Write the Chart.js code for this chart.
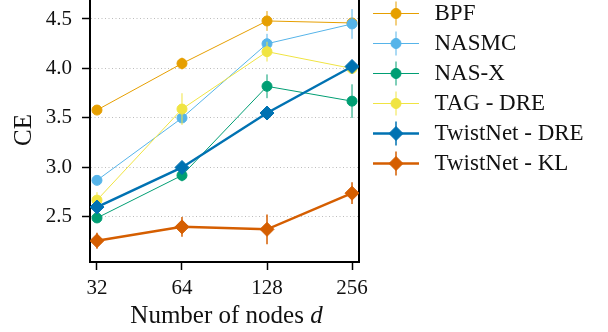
<!DOCTYPE html>
<html>
<head>
<meta charset="utf-8">
<script src="https://cdn.jsdelivr.net/npm/chart.js@4.4.1/dist/chart.umd.min.js"></script>
<style>
  html, body { margin: 0; padding: 0; background: #fff; }
  #frame { width: 608px; height: 332px; overflow: hidden; position: relative; }
  #grafica { position: absolute; left: 0; top: -5px; }
</style>
</head>
<body>
<div id="frame"><canvas id="grafica" width="608" height="337"></canvas></div>
<script>
// number of nodes d (log2 spaced on the axis)
const nodes = [32, 64, 128, 256];
const nodeLabels = ['32', '64', '128', '256'];
const yTicks = [2.5, 3.0, 3.5, 4.0, 4.5];
const yTickLabels = ['2.5', '3.0', '3.5', '4.0', '4.5'];

const names = ['BPF', 'NASMC', 'NAS-X', 'TAG - DRE', 'TwistNet - DRE', 'TwistNet - KL'];
const colors = ['#E69F00', '#56B4E9', '#009E73', '#F0E442', '#0072B2', '#D55E00'];

const bpf = [3.58, 4.05, 4.48, 4.46];
const nasmc = [2.87, 3.50, 4.25, 4.45];
const nasx = [2.49, 2.92, 3.82, 3.67];
const tagDre = [2.67, 3.59, 4.17, 4.00];
const twistDre = [2.60, 3.00, 3.55, 4.02];
const twistKl = [2.26, 2.40, 2.375, 2.74];

const bpfErr = [0.03, 0.06, 0.10, 0.04];
const nasmcErr = [0.03, 0.05, 0.10, 0.15];
const nasxErr = [0.04, 0.06, 0.12, 0.17];
const tagDreErr = [0.08, 0.16, 0.10, 0.05];
const twistDreErr = [0.04, 0.04, 0.05, 0.05];
const twistKlErr = [0.08, 0.10, 0.15, 0.11];

const series = [bpf, nasmc, nasx, tagDre, twistDre, twistKl];
const errors = [bpfErr, nasmcErr, nasxErr, tagDreErr, twistDreErr, twistKlErr];

const family = "'Liberation Serif', serif";
const tickSize = 21;
const legendSize = 23;
const titleSize = 25;

Chart.defaults.font.family = family;
Chart.defaults.color = '#111';

function esGrueso(i) { return i >= 4; }

// little picture for the legend: line, error bar and marker
function iconoLeyenda(i) {
  const c = document.createElement('canvas');
  c.width = 50; c.height = 27;
  const g = c.getContext('2d');
  g.strokeStyle = colors[i];
  g.fillStyle = colors[i];
  g.lineWidth = esGrueso(i) ? 2.5 : 1;
  g.beginPath(); g.moveTo(0, 13.5); g.lineTo(46, 13.5); g.stroke();
  g.lineWidth = esGrueso(i) ? 1.5 : 1;
  g.beginPath(); g.moveTo(23, 1.5); g.lineTo(23, 25.5); g.stroke();
  g.lineWidth = 1;
  g.beginPath();
  if (esGrueso(i)) {
    g.moveTo(16, 13.5); g.lineTo(23, 6.5); g.lineTo(30, 13.5); g.lineTo(23, 20.5); g.closePath();
  } else {
    g.arc(23, 13.5, 5, 0, Math.PI * 2);
  }
  g.fill(); g.stroke();
  return c;
}

const iconos = names.map((n, i) => iconoLeyenda(i));

// legend box width, so that it starts right of the plot
const meas = document.createElement('canvas').getContext('2d');
meas.font = legendSize + 'px ' + family;
const longest = Math.max(...names.map(n => meas.measureText(n).width));
const legendW = 7 + 50 + legendSize / 2 + longest + 10;
const padRight = Math.max(0, 608 - 366 - legendW);

const datasets = names.map((name, i) => ({
  label: name,
  data: nodes.map((d, j) => ({ x: Math.log2(d), y: series[i][j] })),
  err: errors[i],
  borderColor: colors[i],
  backgroundColor: colors[i],
  borderWidth: esGrueso(i) ? 2.5 : 1,
  pointStyle: esGrueso(i) ? 'rectRot' : 'circle',
  pointRadius: esGrueso(i) ? 7 : 5,
  pointBorderWidth: 1,
  pointBorderColor: colors[i],
  pointBackgroundColor: colors[i],
  tension: 0,
  order: names.length - 1 - i
}));

const errorBars = {
  id: 'errorBars',
  beforeDatasetDraw(chart, args) {
    const ds = chart.data.datasets[args.index];
    const y = chart.scales.y;
    const ctx = chart.ctx;
    ctx.save();
    ctx.strokeStyle = ds.borderColor;
    ctx.lineWidth = esGrueso(args.index) ? 1.5 : 1;
    args.meta.data.forEach((pt, j) => {
      const v = ds.data[j].y, e = ds.err[j];
      ctx.beginPath();
      ctx.moveTo(pt.x, y.getPixelForValue(v - e));
      ctx.lineTo(pt.x, y.getPixelForValue(v + e));
      ctx.stroke();
    });
    ctx.restore();
  }
};

const xTitle = {
  id: 'xTitle',
  afterDraw(chart) {
    const { ctx, chartArea } = chart;
    const a = 'Number of nodes ', b = 'd';
    ctx.save();
    ctx.fillStyle = '#111';
    ctx.textBaseline = 'alphabetic';
    ctx.textAlign = 'left';
    ctx.font = titleSize + 'px ' + family;
    const wa = ctx.measureText(a).width;
    ctx.font = 'italic ' + titleSize + 'px ' + family;
    const wb = ctx.measureText(b).width;
    const x0 = (chartArea.left + chartArea.right) / 2 + 2 - (wa + wb) / 2;
    const yb = chartArea.bottom + 61;
    ctx.font = titleSize + 'px ' + family;
    ctx.fillText(a, x0, yb);
    ctx.font = 'italic ' + titleSize + 'px ' + family;
    ctx.fillText(b, x0 + wa, yb);
    ctx.restore();
  }
};

new Chart(document.getElementById('grafica').getContext('2d'), {
  type: 'line',
  data: { datasets: datasets },
  plugins: [errorBars, xTitle],
  options: {
    responsive: false,
    animation: false,
    devicePixelRatio: 1,
    layout: { autoPadding: false, padding: { left: 0, top: 0, bottom: 0, right: padRight } },
    plugins: {
      tooltip: { enabled: false },
      legend: {
        position: 'right',
        align: 'start',
        maxWidth: Math.ceil(legendW),
        labels: {
          usePointStyle: true,
          pointStyleWidth: 50,
          padding: 7,
          color: '#111',
          font: { size: legendSize },
          generateLabels: chart => chart.data.datasets.map((ds, i) => ({
            text: ds.label,
            pointStyle: iconos[i],
            datasetIndex: i,
            hidden: false,
            fillStyle: colors[i],
            strokeStyle: colors[i],
            lineWidth: 0,
            fontColor: '#111'
          }))
        }
      }
    },
    scales: {
      x: {
        type: 'linear',
        min: 4.918,
        max: 8.082,
        afterBuildTicks: s => { s.ticks = nodes.map(d => ({ value: Math.log2(d) })); },
        afterFit: s => { s.height = 70; s.paddingLeft = 0; s.paddingRight = 0; },
        ticks: {
          font: { size: tickSize },
          color: '#111',
          padding: 6,
          maxRotation: 0,
          autoSkip: false,
          callback: (v, i) => nodeLabels[i]
        },
        grid: { drawOnChartArea: false, drawTicks: true, tickLength: 8, tickColor: '#000', tickWidth: 1.5 },
        border: { display: true, color: '#000', width: 2 }
      },
      y: {
        type: 'linear',
        position: 'left',
        min: 2.045,
        max: 4.712,
        afterBuildTicks: s => { s.ticks = yTicks.map(v => ({ value: v })); },
        afterFit: s => { s.width = 90; s.paddingTop = 3; s.paddingBottom = 0; },
        ticks: {
          font: { size: tickSize },
          color: '#111',
          padding: 10,
          autoSkip: false,
          callback: (v, i) => yTickLabels[i]
        },
        title: { display: true, text: 'CE', font: { size: titleSize }, color: '#111', padding: { top: 9, bottom: 0 } },
        grid: { color: '#bdbdbd', lineWidth: 1, tickLength: 8, tickColor: '#000', tickWidth: 1.5, tickBorderDash: [] },
        border: { display: true, color: '#000', width: 2, dash: [1, 2.5] }
      },
      y2: {
        type: 'linear',
        position: 'right',
        afterFit: s => { s.width = 7; s.paddingTop = 0; s.paddingBottom = 0; },
        ticks: { display: false },
        grid: { drawOnChartArea: false, drawTicks: false },
        border: { display: true, color: '#000', width: 2 }
      }
    }
  }
});
</script>
</body>
</html>
